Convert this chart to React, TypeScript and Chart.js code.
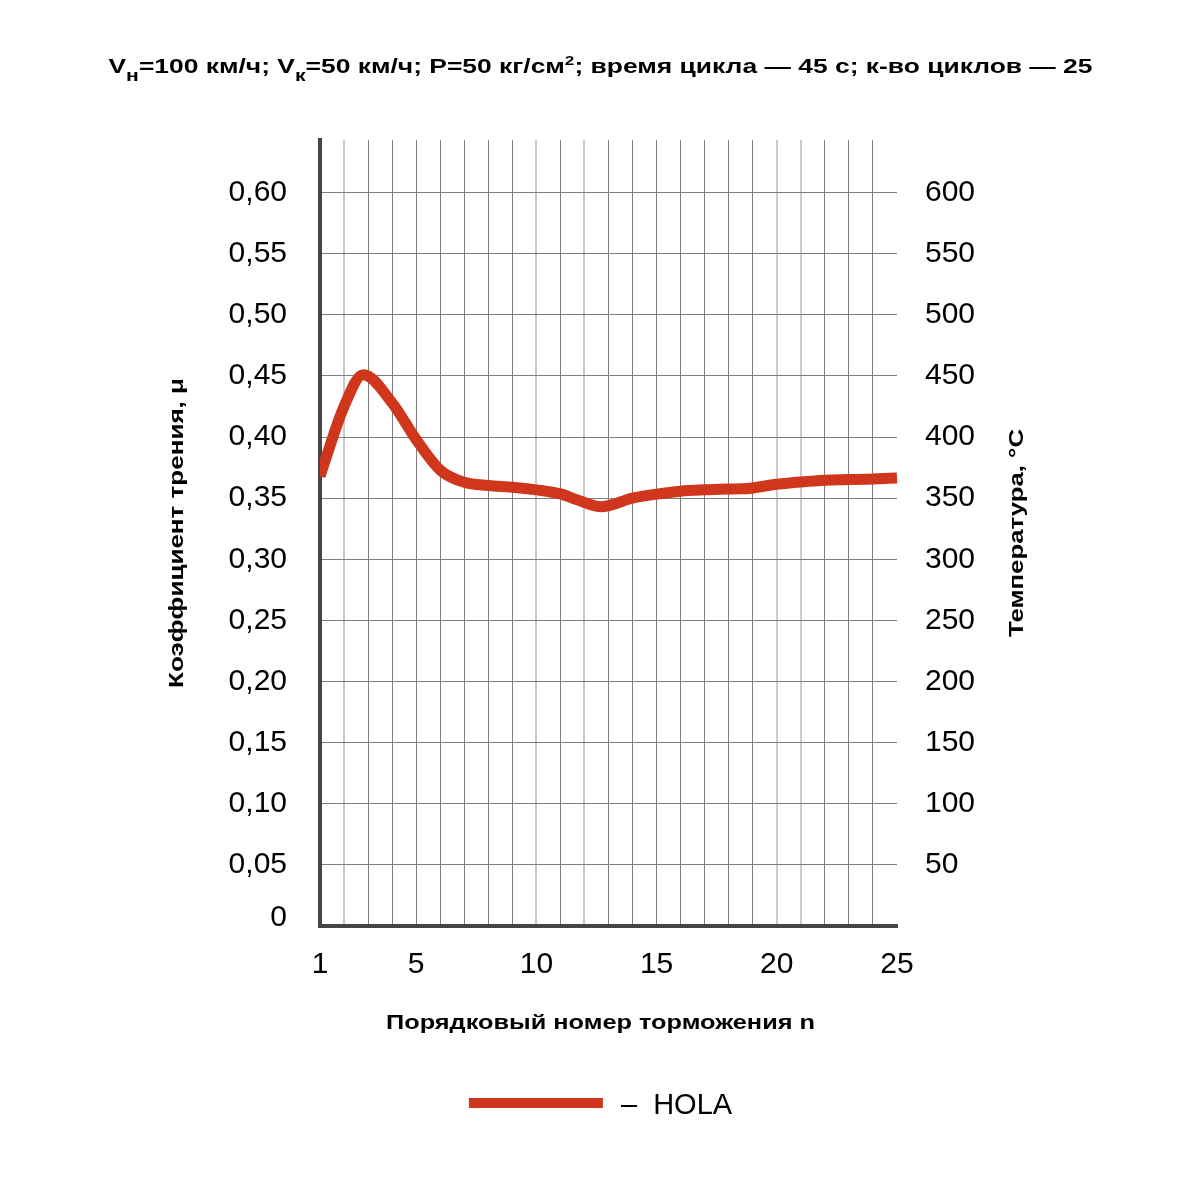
import React, { useEffect, useRef } from 'react';
import { Chart, registerables } from 'chart.js';

Chart.register(...registerables);

// ---- data ----
const brakingNumber = [1, 2, 2.8, 4, 5, 6, 7, 8, 9, 10, 11, 11.7, 12.7, 14, 15, 16, 17, 18, 18.6, 20, 21, 22, 23, 24, 25];
const frictionCoef = [0.368, 0.425, 0.451, 0.428, 0.398, 0.373, 0.363, 0.3603, 0.359, 0.3568, 0.3535, 0.3486, 0.343, 0.350, 0.3533, 0.3557, 0.3568, 0.3575, 0.3576, 0.3614, 0.3633, 0.3647, 0.3652, 0.3657, 0.3665];
const xLabelTicks = [1, 5, 10, 15, 20, 25];
const lightGridAt = [2, 10, 12, 20, 21];
const seriesName = 'HOLA';
const titleParts = [
  { text: 'V', kind: 'n' },
  { text: 'н', kind: 'sub' },
  { text: '=100 км/ч; V', kind: 'n' },
  { text: 'к', kind: 'sub' },
  { text: '=50 км/ч; P=50 кг/см', kind: 'n' },
  { text: '2', kind: 'sup' },
  { text: '; время цикла — 45 с; к-во циклов — 25', kind: 'n' },
];
const yTitle = 'Коэффициент трения, μ';
const y2Title = 'Температура, °C';
const xTitle = 'Порядковый номер торможения n';

const LINE_COLOR = '#d0361b';
const FONT = '"Liberation Sans", Arial, Helvetica, sans-serif';

function fitText(ctx: CanvasRenderingContext2D, text: string, target: number) {
  const w = ctx.measureText(text).width;
  const s = target / w;
  ctx.scale(s, 1);
  ctx.fillText(text, 0, 0);
}

const textPlugin = {
  id: 'customTexts',
  afterDraw(chart: any) {
    const ctx = chart.ctx as CanvasRenderingContext2D;
    const ca = chart.chartArea;
    const W = chart.width;
    ctx.save();
    ctx.fillStyle = '#000';

    // title with sub/superscripts
    const fonts: Record<string, string> = {
      n: `bold 20px ${FONT}`,
      sub: `bold 16px ${FONT}`,
      sup: `bold 13px ${FONT}`,
    };
    let total = 0;
    const widths = titleParts.map((p) => {
      ctx.font = fonts[p.kind];
      const w = ctx.measureText(p.text).width;
      total += w;
      return w;
    });
    const target = 984;
    const sx = target / total;
    ctx.save();
    ctx.translate(W / 2 - target / 2, 73);
    ctx.scale(sx, 1);
    ctx.textAlign = 'left';
    ctx.textBaseline = 'alphabetic';
    let x = 0;
    titleParts.forEach((p, i) => {
      ctx.font = fonts[p.kind];
      const dy = p.kind === 'sub' ? 8 : p.kind === 'sup' ? -8 : 0;
      ctx.fillText(p.text, x, dy);
      x += widths[i];
    });
    ctx.restore();

    // axis titles
    const cy = (ca.top + ca.bottom) / 2;
    ctx.font = `bold 20px ${FONT}`;
    ctx.textAlign = 'center';
    ctx.textBaseline = 'alphabetic';
    ctx.save();
    ctx.translate(183, cy);
    ctx.rotate(-Math.PI / 2);
    fitText(ctx, yTitle, 310);
    ctx.restore();
    ctx.save();
    ctx.translate(1023, cy);
    ctx.rotate(-Math.PI / 2);
    fitText(ctx, y2Title, 208);
    ctx.restore();
    ctx.save();
    ctx.translate(W / 2, 1029);
    fitText(ctx, xTitle, 429);
    ctx.restore();

    // zero label of left axis (raised above the axis line)
    const yScale = chart.scales.y;
    ctx.font = `30px ${FONT}`;
    ctx.textAlign = 'right';
    ctx.textBaseline = 'middle';
    ctx.fillText('0', ca.left - 33, yScale.getPixelForValue(0) - 8);

    // legend
    ctx.font = `29px ${FONT}`;
    const legendText = '–  ' + seriesName;
    const tw = ctx.measureText(legendText).width;
    const lineW = 134;
    const gap = 18;
    const lw = lineW + gap + tw;
    const x0 = W / 2 - lw / 2;
    ctx.strokeStyle = LINE_COLOR;
    ctx.lineWidth = 10;
    ctx.lineCap = 'butt';
    ctx.beginPath();
    ctx.moveTo(x0, 1103);
    ctx.lineTo(x0 + lineW, 1103);
    ctx.stroke();
    ctx.textAlign = 'left';
    ctx.textBaseline = 'alphabetic';
    ctx.fillText(legendText, x0 + lineW + gap, 1114);

    ctx.restore();
  },
};

export default function App() {
  const canvasRef = useRef<HTMLCanvasElement | null>(null);

  useEffect(() => {
    if (!canvasRef.current) return;
    const tickFont = { family: FONT, size: 30 };
    const chart = new Chart(canvasRef.current, {
      type: 'line',
      data: {
        datasets: [
          {
            label: seriesName,
            data: brakingNumber.map((n, i) => ({ x: n, y: frictionCoef[i] })),
            borderColor: LINE_COLOR,
            backgroundColor: LINE_COLOR,
            borderWidth: 11,
            borderCapStyle: 'butt',
            pointRadius: 0,
            cubicInterpolationMode: 'monotone',
            fill: false,
            clip: { left: 0, right: 6, top: 6, bottom: 6 } as any,
          },
        ],
      },
      options: {
        animation: false,
        responsive: false,
        maintainAspectRatio: false,
        layout: { padding: { top: 140, left: 0, right: 0, bottom: 0 } },
        plugins: {
          legend: { display: false },
          title: { display: false },
          tooltip: { enabled: false },
        },
        scales: {
          x: {
            type: 'linear',
            min: 1,
            max: 25,
            afterBuildTicks: (s: any) => {
              const t = [];
              for (let v = 1; v <= 25; v++) t.push({ value: v });
              s.ticks = t;
            },
            afterFit: (s: any) => {
              s.height = 274;
            },
            ticks: {
              autoSkip: false,
              maxRotation: 0,
              padding: 21,
              color: '#000',
              font: tickFont,
              callback: (v: any) => (xLabelTicks.includes(Number(v)) ? String(v) : ''),
            },
            grid: {
              drawTicks: false,
              color: (c: any) => {
                const v = c.tick?.value;
                if (v === 1 || v === 25) return 'rgba(0,0,0,0)';
                return lightGridAt.includes(v) ? '#cbcbcb' : '#7d7d7d';
              },
              lineWidth: (c: any) => (lightGridAt.includes(c.tick?.value) ? 2 : 1),
            },
            border: { display: true, color: '#454545', width: 4 },
          },
          y: {
            type: 'linear',
            position: 'left',
            min: 0,
            max: 0.643,
            afterBuildTicks: (s: any) => {
              s.ticks = s.ticks.filter((t: any) => t.value <= 0.6 + 1e-9);
            },
            afterFit: (s: any) => {
              s.width = 320;
            },
            ticks: {
              stepSize: 0.05,
              padding: 33,
              color: '#000',
              font: tickFont,
              callback: (v: any) => (Number(v) === 0 ? '' : Number(v).toFixed(2).replace('.', ',')),
            },
            grid: { drawTicks: false, color: '#7d7d7d', lineWidth: 1 },
            border: { display: true, color: '#454545', width: 4 },
          },
          y2: {
            type: 'linear',
            position: 'right',
            min: 0,
            max: 643,
            afterBuildTicks: (s: any) => {
              s.ticks = s.ticks.filter((t: any) => t.value <= 600 + 1e-6);
            },
            afterFit: (s: any) => {
              s.width = 304;
            },
            ticks: {
              stepSize: 50,
              padding: 28,
              color: '#000',
              font: tickFont,
              callback: (v: any) => (Number(v) === 0 ? '' : String(v)),
            },
            grid: { display: false, drawTicks: false },
            border: { display: false },
          },
        },
      },
      plugins: [textPlugin],
    } as any);
    return () => chart.destroy();
  }, []);

  return (
    <div style={{ position: 'absolute', left: 0, top: 0, width: 1201, height: 1200, background: '#fff' }}>
      <canvas ref={canvasRef} width={1201} height={1200} style={{ width: 1201, height: 1200, display: 'block' }} />
    </div>
  );
}
